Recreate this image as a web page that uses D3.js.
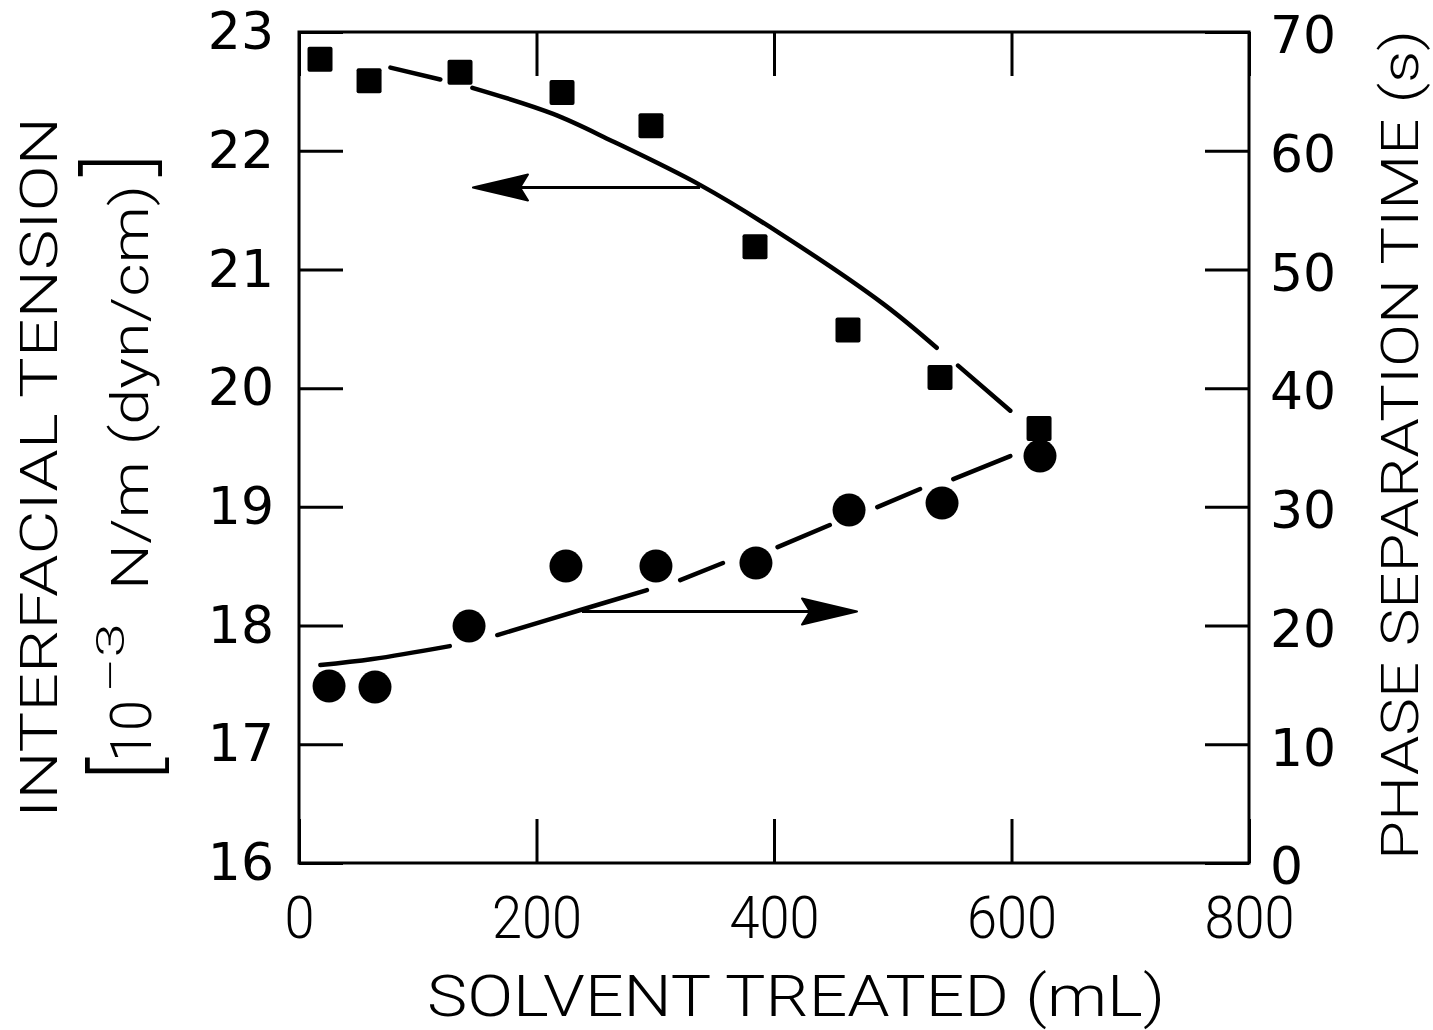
<!DOCTYPE html>
<html><head><meta charset="utf-8">
<script src="https://cdn.jsdelivr.net/npm/d3@7"></script>
<style>html,body{margin:0;padding:0;background:#fff}svg{display:block}</style>
</head><body><svg id="chart" width="1433" height="1030"></svg>
<script>
// ---- data ----
const solventSquares = [17.7, 59, 135.6, 221.5, 296.4, 384, 462.3, 539.8, 623.2];
const tension = [22.77, 22.59, 22.66, 22.49, 22.21, 21.19, 20.49, 20.09, 19.66];
const solventCircles = [25.3, 64, 143.2, 224.8, 300.6, 384.8, 463.2, 541.5, 624];
const sepTime = [14.90, 14.82, 19.96, 25.01, 25.01, 25.27, 29.73, 30.32, 34.28];
// fitted curves (null = break in the drawn line)
const tensionFitX = [77, 119, null, 146, 214, 264, 338, 404, 492, 537, null, 555, 599];
const tensionFitY = [22.70, 22.60, null, 22.53, 22.31, 22.08, 21.71, 21.31, 20.71, 20.34, null, 20.19, 19.81];
const timeFitX = [18, 62, 127, null, 167, 237, 293, null, 321, 357, null, 403, 447, null, 487, 523, null, 551, 599];
const timeFitY = [16.67, 17.18, 18.27, null, 19.20, 21.31, 22.99, null, 23.83, 25.27, null, 26.61, 28.47, null, 29.98, 31.50, null, 32.34, 34.28];
// arrows pointing to the axis of each series
const tensionArrowX = [337.7, 146.5];
const tensionArrowY = 21.69;
const timeArrowX = [238.3, 469.9];
const timeArrowY = 21.18;
// ticks
const xTickValues = [0, 200, 400, 600, 800];
const leftTickValues = [16, 17, 18, 19, 20, 21, 22, 23];
const rightTickValues = [0, 10, 20, 30, 40, 50, 60, 70];

const svg = d3.select('#chart');
const x = d3.scaleLinear().domain([0, 800]).range([299, 1249]);
const yL = d3.scaleLinear().domain([16, 23]).range([863, 32]);
const yR = d3.scaleLinear().domain([0, 70]).range([863, 32]);

const numFont = "'DejaVu Sans', sans-serif";
const thinFont = "Roboto, 'Liberation Sans', sans-serif";

function styleAxis(g, family, size) {
  g.attr('font-family', family).attr('font-size', size);
  g.select('.domain').remove();
  g.selectAll('.tick line').attr('stroke', '#000').attr('stroke-width', 3);
  g.selectAll('.tick text').attr('fill', '#000');
}

// left axis
svg.append('g')
  .attr('transform', `translate(${x(0)},0)`)
  .call(d3.axisLeft(yL).tickValues(leftTickValues).tickSize(-44).tickPadding(25).tickFormat(d3.format('d')))
  .call(g => styleAxis(g, numFont, 52));

// right axis
svg.append('g')
  .attr('transform', `translate(${x(800)},0)`)
  .call(d3.axisRight(yR).tickValues(rightTickValues).tickSize(-44).tickPadding(21).tickFormat(d3.format('d')))
  .call(g => styleAxis(g, numFont, 52))
  .call(g => g.selectAll('.tick text').attr('dy', '0.4em'));

// bottom axis
svg.append('g')
  .attr('transform', `translate(0,${yL(16)})`)
  .call(d3.axisBottom(x).tickValues(xTickValues).tickSize(-44).tickPadding(32).tickFormat(d3.format('d')))
  .call(g => styleAxis(g, thinFont, 60))
  .call(g => g.selectAll('.tick text')
    .attr('font-weight', 300)
    .attr('textLength', d => String(d).length * 30)
    .attr('lengthAdjust', 'spacingAndGlyphs'));

// top axis (ticks only)
svg.append('g')
  .attr('transform', `translate(0,${yL(23)})`)
  .call(d3.axisTop(x).tickValues(xTickValues).tickSize(-44).tickFormat(() => ''))
  .call(g => styleAxis(g, numFont, 10));

// frame
svg.append('rect')
  .attr('x', x(0)).attr('y', yL(23))
  .attr('width', x(800) - x(0)).attr('height', yL(16) - yL(23))
  .attr('fill', 'none').attr('stroke', '#000').attr('stroke-width', 3);

// fitted curves
const tensionFit = tensionFitX.map((v, i) => [v, tensionFitY[i]]);
const timeFit = timeFitX.map((v, i) => [v, timeFitY[i]]);
const lineL = d3.line().defined(d => d[0] != null).x(d => x(d[0])).y(d => yL(d[1])).curve(d3.curveCatmullRom.alpha(0.5));
const lineR = d3.line().defined(d => d[0] != null).x(d => x(d[0])).y(d => yR(d[1])).curve(d3.curveCatmullRom.alpha(0.5));
svg.append('path').attr('d', lineL(tensionFit)).attr('fill', 'none').attr('stroke', '#000')
  .attr('stroke-width', 4.5).attr('stroke-linecap', 'round');
svg.append('path').attr('d', lineR(timeFit)).attr('fill', 'none').attr('stroke', '#000')
  .attr('stroke-width', 4.5).attr('stroke-linecap', 'round');

// markers
const sq = 25;
svg.append('g').selectAll('rect').data(solventSquares.map((v, i) => [v, tension[i]])).join('rect')
  .attr('x', d => x(d[0]) - sq / 2).attr('y', d => yL(d[1]) - sq / 2)
  .attr('width', sq).attr('height', sq).attr('rx', 2).attr('fill', '#000');
svg.append('g').selectAll('circle').data(solventCircles.map((v, i) => [v, sepTime[i]])).join('circle')
  .attr('cx', d => x(d[0])).attr('cy', d => yR(d[1])).attr('r', 16.5).attr('fill', '#000');

// arrows
function arrow(x0, x1, y) {
  const dir = Math.sign(x1 - x0);
  svg.append('line').attr('x1', x0).attr('x2', x1 - dir * 40).attr('y1', y).attr('y2', y)
    .attr('stroke', '#000').attr('stroke-width', 3);
  svg.append('path')
    .attr('d', `M0,0 L-55,-13 L-47,0 L-55,13 Z`)
    .attr('transform', `translate(${x1},${y}) scale(${dir},1)`)
    .attr('fill', '#000').attr('stroke', '#000').attr('stroke-width', 2).attr('stroke-linejoin', 'round');
}
arrow(x(tensionArrowX[0]), x(tensionArrowX[1]), yL(tensionArrowY));
arrow(x(timeArrowX[0]), x(timeArrowX[1]), yR(timeArrowY));

// titles
svg.append('text').text('SOLVENT TREATED (mL)')
  .attr('x', 796).attr('y', 1016).attr('text-anchor', 'middle')
  .attr('font-family', thinFont).attr('font-weight', 300).attr('font-size', 58)
  .attr('textLength', 738).attr('lengthAdjust', 'spacingAndGlyphs');

function vtext(str, bx, by, size, len, anchor) {
  const t = svg.append('text').text(str)
    .attr('transform', `translate(${bx},${by}) rotate(-90)`)
    .attr('text-anchor', anchor || 'start')
    .attr('font-family', thinFont).attr('font-weight', 300).attr('font-size', size);
  if (len) t.attr('textLength', len).attr('lengthAdjust', 'spacingAndGlyphs');
  return t;
}
vtext('INTERFACIAL TENSION', 57, 818, 52, 701);
vtext('[', 157, 784, 95).attr('font-family', numFont).attr('font-weight', 200);
vtext('10', 151, 762, 58, 62);
vtext('\u22123', 124, 693, 38, 70);
vtext('N/m (dyn/cm)', 148, 590, 52, 405);
vtext(']', 150, 150, 95, null, 'end').attr('font-family', numFont).attr('font-weight', 200);
vtext('PHASE SEPARATION TIME (s)', 1418, 860, 52, 830);
</script>
</body></html>
